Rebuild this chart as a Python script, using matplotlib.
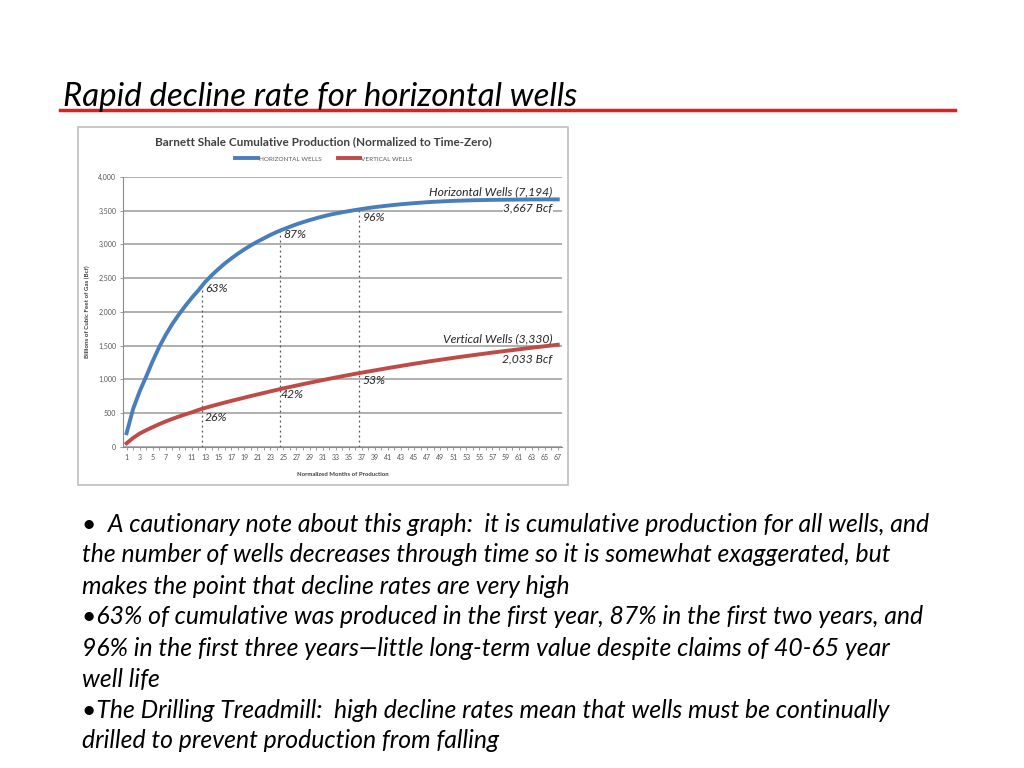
import numpy as np
import matplotlib
matplotlib.use("Agg")
import matplotlib.pyplot as plt
from matplotlib.patches import Rectangle
from matplotlib.lines import Line2D

# cumulative production (Bcf) by normalized month
months = np.arange(1, 68)
horizontal = [200, 560, 820, 1040, 1270, 1480, 1660, 1820, 1960, 2090,
              2210, 2320, 2440, 2540, 2630, 2715, 2790, 2860, 2925, 2985,
              3040, 3090, 3140, 3185, 3225, 3262, 3298, 3330, 3360, 3388,
              3414, 3438, 3458, 3477, 3494, 3510, 3525, 3540, 3553, 3565,
              3576, 3586, 3596, 3604, 3612, 3619, 3626, 3632, 3637, 3642,
              3646, 3649, 3652, 3655, 3657, 3659, 3661, 3662, 3663, 3664,
              3665, 3666, 3667, 3667, 3668, 3668, 3668]
vertical = [50, 130, 195, 245, 290, 335, 375, 412, 447, 480,
            510, 545, 575, 602, 628, 654, 679, 703, 727, 751,
            774, 797, 820, 843, 865, 886, 907, 928, 948, 968,
            988, 1007, 1026, 1045, 1063, 1081, 1098, 1115, 1132, 1149,
            1166, 1182, 1198, 1214, 1230, 1245, 1260, 1275, 1289, 1303,
            1317, 1331, 1344, 1357, 1370, 1383, 1396, 1408, 1420, 1432,
            1444, 1456, 1468, 1479, 1490, 1501, 1512]

marker_months = [12.5, 24.5, 36.5]
horiz_pct = ["63%", "87%", "96%"]
vert_pct = ["26%", "42%", "53%"]

title = "Rapid decline rate for horizontal wells"
bullets = [
    "\u2022  A cautionary note about this graph:  it is cumulative production for all wells, and",
    "the number of wells decreases through time so it is somewhat exaggerated, but",
    "makes the point that decline rates are very high",
    "\u202263% of cumulative was produced in the first year, 87% in the first two years, and",
    "96% in the first three years\u2014little long-term value despite claims of 40-65 year",
    "well life",
    "\u2022The Drilling Treadmill:  high decline rates mean that wells must be continually",
    "drilled to prevent production from falling",
]

W, H = 1024, 768
fig = plt.figure(figsize=(W / 100, H / 100), dpi=100)
fig.patch.set_facecolor("white")
plt.rcParams['font.family'] = ['Lato', 'DejaVu Sans']

# slide title + red rule
fig.text(63 / W, 1 - 97 / H, title, fontsize=23.8, style="italic", color="black",
         va="center", ha="left")
fig.add_artist(Line2D([60 / W, 955 / W], [1 - 110 / H, 1 - 110 / H],
                      color="#E0201B", lw=2.5))

# chart frame
fig.add_artist(Rectangle((78 / W, 1 - 485 / H), 490 / W, 358 / H,
                         fill=False, edgecolor="#BFBFBF", lw=1.2))

ax = fig.add_axes([123.3 / W, 1 - 446.7 / H, (561.7 - 123.3) / W, (446.7 - 177) / H])
blue = "#4A7EBB"
red = "#BE4B48"
ax.plot(months, horizontal, color=blue, lw=2.8, label="HORIZONTAL WELLS")
ax.plot(months, vertical, color=red, lw=2.8, label="VERTICAL WELLS")

for m in marker_months:
    top = np.interp(m, months, horizontal)
    ax.plot([m, m], [0, top], color="#555555", lw=0.9, ls=(0, (1.5, 2.5)), zorder=1)

ax.set_xlim(0.5, 67.6)
ax.set_ylim(0, 4000)
ax.set_yticks(np.arange(0, 4001, 500))
ax.set_yticklabels([f"{v:,}" for v in range(0, 4001, 500)])
ax.set_xticks(months[::2])
ax.set_xticks(months, minor=True)
ax.grid(axis="y", color="#9A9A9A", lw=1.1)
ax.set_axisbelow(True)
for s in ["top", "right"]:
    ax.spines[s].set_visible(False)
ax.spines["left"].set_color("#8C8C8C")
ax.spines["bottom"].set_color("#8C8C8C")
ax.tick_params(axis="both", labelsize=5, colors="#8C8C8C", labelcolor="#555555",
               length=2.5, width=0.6, pad=2.5)
ax.tick_params(axis="x", which="minor", length=2.5, width=0.6, colors="#8C8C8C")
ax.set_ylabel("Billions of Cubic Feet of Gas (Bcf)", fontsize=4.5, fontweight="bold",
              color="#404040", labelpad=6)
ax.set_xlabel("Normalized Months of Production", fontsize=4.3, fontweight="bold",
              color="#404040", labelpad=8)

ann = dict(fontsize=8.7, style="italic", color="#262626")
ax.text(13.0, 2350, horiz_pct[0], va="center", **ann)
ax.text(25.0, 3150, horiz_pct[1], va="center", **ann)
ax.text(37.1, 3400, horiz_pct[2], va="center", **ann)
ax.text(12.9, 436, vert_pct[0], va="center", **ann)
ax.text(24.6, 767, vert_pct[1], va="center", **ann)
ax.text(37.1, 980, vert_pct[2], va="center", **ann)
ax.text(66.2, 3780, "Horizontal Wells (7,194)", ha="right", va="center", **ann)
ax.text(66.2, 3540, "3,667 Bcf", ha="right", va="center",
        bbox=dict(facecolor="white", edgecolor="none", pad=0.5), **ann)
ax.text(66.2, 1600, "Vertical Wells (3,330)", ha="right", va="center", **ann)
ax.text(66.2, 1297, "2,033 Bcf", ha="right", va="center", **ann)

fig.text(323 / W, 1 - 142 / H,
         "Barnett Shale Cumulative Production (Normalized to Time-Zero)",
         fontsize=8.5, fontweight="bold", color="#404040", ha="center", va="center")
ax.legend(loc="center", bbox_to_anchor=(324 / W, 1 - 159 / H),
          bbox_transform=fig.transFigure, ncol=2, frameon=False, fontsize=4.6,
          handlelength=3.5, handletextpad=0.2, columnspacing=2.5,
          labelcolor="#595959")

# bullet text
y0 = 524
for i, line in enumerate(bullets):
    fig.text(82 / W, 1 - (y0 + 31 * i) / H, line, fontsize=17.8, style="italic",
             color="black", va="center", ha="left")

fig.savefig("out.png", dpi=100)
